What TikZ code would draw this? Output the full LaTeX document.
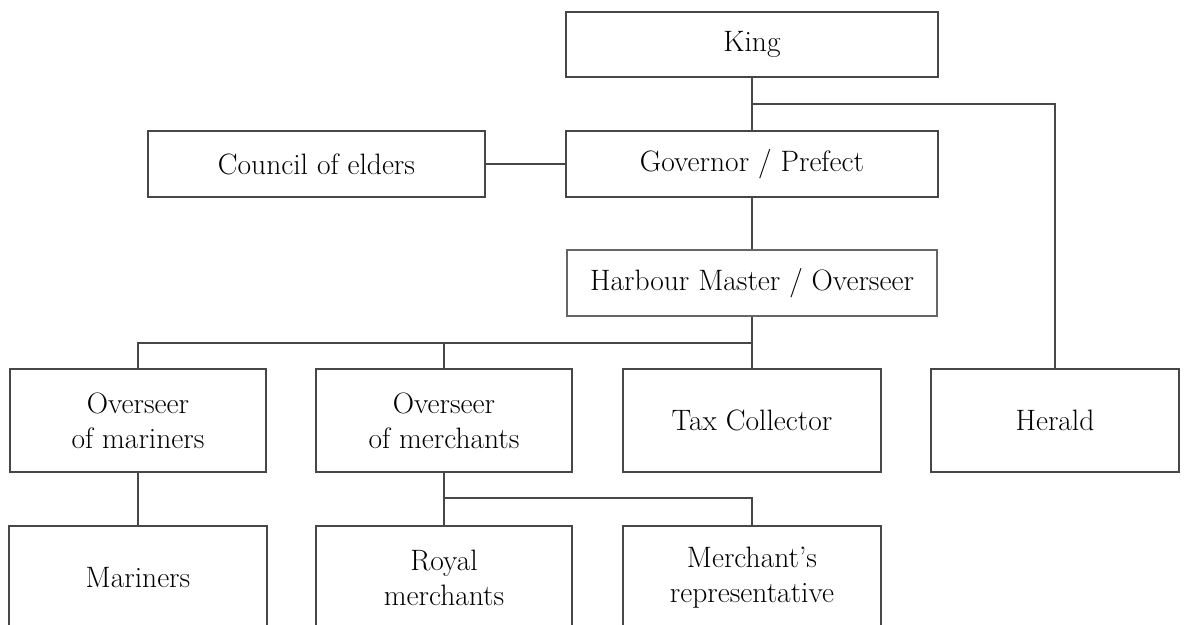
\documentclass[tikz,border=0pt]{standalone}
\usetikzlibrary{calc}
\begin{document}
\begin{tikzpicture}[x=1pt,y=-1pt,
  box/.style={draw=black!72, line width=1.4pt, rectangle, inner sep=0pt, align=center,
    text=black, font=\fontsize{29.5}{35}\selectfont},
  conn/.style={draw=black!72, line width=1.4pt}]
\useasboundingbox (0,0) rectangle (1189,624);
\clip (0,0) rectangle (1189,624);
\node[box, minimum width=372pt, minimum height=65pt] (king) at (752,44.5) {King};
\node[box, minimum width=372pt, minimum height=66pt] (gov) at (752,164) {Governor / Prefect};
\node[box, minimum width=337pt, minimum height=66pt] (council) at (316.5,164) {Council of elders};
\node[box, minimum width=370pt, minimum height=66pt, draw=black!60] (harb) at (752,283) {Harbour Master / Overseer};
\node[box, minimum width=256pt, minimum height=103pt] (omar) at (138,420.5) {Overseer\\of mariners};
\node[box, minimum width=256pt, minimum height=103pt] (omer) at (444,420.5) {Overseer\\of merchants};
\node[box, minimum width=258pt, minimum height=103pt] (tax) at (752,420.5) {Tax Collector};
\node[box, minimum width=248pt, minimum height=103pt] (herald) at (1055,420.5) {Herald};
\node[box, minimum width=258pt, minimum height=103pt] (mar) at (138,577.5) {Mariners};
\node[box, minimum width=256pt, minimum height=103pt] (royal) at (444,577.5) {Royal\\merchants};
\node[box, minimum width=258pt, minimum height=103pt] (rep) at (752,577.5) {Merchant's\\representative};
\coordinate (kg) at ($(king.south)!.5!(gov.north)$);
\coordinate (hb) at (752,343);
\coordinate (mb) at (444,498);
\draw[conn] (king.south) -- (gov.north);
\draw[conn] (herald.north) |- (kg);
\draw[conn] (council.east) -- (gov.west);
\draw[conn] (gov.south) -- (harb.north);
\draw[conn] (harb.south) -- (tax.north);
\draw[conn] (omar.north) |- (hb);
\draw[conn] (omer.north) -- (omer.north |- hb);
\draw[conn] (omar.south) -- (mar.north);
\draw[conn] (omer.south) -- (royal.north);
\draw[conn] (mb) -| (rep.north);
\end{tikzpicture}
\end{document}
